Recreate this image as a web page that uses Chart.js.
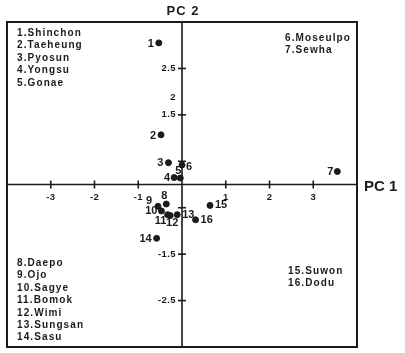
<!DOCTYPE html>
<html>
<head>
<meta charset="utf-8">
<script src="https://cdn.jsdelivr.net/npm/chart.js@4"></script>
<style>
    html, body { margin: 0; padding: 0; background: #fff; }
    #wrap { width: 405px; height: 353px; }
</style>
</head>
<body>
<div id="wrap"><canvas id="pcaChart"></canvas></div>
<script>
    const siteNames = ["Shinchon", "Taeheung", "Pyosun", "Yongsu", "Gonae", "Moseulpo", "Sewha",
        "Daepo", "Ojo", "Sagye", "Bomok", "Wimi", "Sungsan", "Sasu", "Suwon", "Dodu"];
    const pc1 = [-0.53, -0.48, -0.31, -0.18, -0.04, 0.00, 3.55, -0.36, -0.55, -0.47, -0.33, -0.27, -0.11, -0.58, 0.64, 0.31];
    const pc2 = [3.05, 1.07, 0.47, 0.15, 0.14, 0.42, 0.28, -0.42, -0.47, -0.57, -0.65, -0.67, -0.65, -1.16, -0.45, -0.76];

    const xTicks = [-3, -2, -1, 1, 2, 3];
    const yTicks = [2.5, 1.5, 0.5, -0.5, -1.5, -2.5];
    const yTickLabels = ["2.5", "1.5", "", "", "-1.5", "-2.5"];
    // a stray "2" label sits between 2.5 and 1.5 in the original figure
    const yExtraLabel = { value: 1.87, text: "2" };

    // legend blocks: [first index, last index, x, first baseline]
    const legendBlocks = [[0, 4, 17, 36], [5, 6, 285, 41], [7, 13, 17, 266], [14, 15, 288, 273.5]];
    // point label offsets: [dx, dy, align]
    const labelPos = [[-5, 1, "right"], [-5, 1, "right"], [-5, 0, "right"], [-4, 0, "right"],
        [-2, -7, "center"], [4, 2, "left"], [-4, 0, "right"], [-2, -8, "center"],
        [-9, -5, "center"], [-4, 0, "right"], [-7, 6, "center"], [2, 7, "center"],
        [5, 0, "left"], [-5, 1, "right"], [5, 0, "left"], [5, 0, "left"]];

    const FONT = "'Liberation Sans', Arial, sans-serif";
    const INK = "#1b1b1b";

    const points = pc1.map((v, i) => ({ x: v, y: pc2[i] }));

    const pcaDecor = {
        id: "pcaDecor",
        afterDraw(chart) {
            const ctx = chart.ctx;
            const a = chart.chartArea;
            const xs = chart.scales.x, ys = chart.scales.y;
            const x0 = xs.getPixelForValue(0), y0 = ys.getPixelForValue(0);
            ctx.save();
            ctx.strokeStyle = INK;
            ctx.fillStyle = INK;

            // frame
            ctx.lineWidth = 2;
            ctx.strokeRect(a.left, a.top, a.right - a.left, a.bottom - a.top);

            // axes through origin
            ctx.lineWidth = 1.6;
            ctx.beginPath();
            ctx.moveTo(a.left, y0); ctx.lineTo(a.right, y0);
            ctx.moveTo(x0, a.top); ctx.lineTo(x0, a.bottom);
            ctx.stroke();

            // x ticks
            ctx.font = "bold 9.5px " + FONT;
            ctx.letterSpacing = "0.4px";
            ctx.textAlign = "center";
            ctx.textBaseline = "alphabetic";
            xTicks.forEach(v => {
                const px = xs.getPixelForValue(v);
                ctx.beginPath();
                ctx.moveTo(px, y0 - 4); ctx.lineTo(px, y0 + 4);
                ctx.stroke();
                ctx.fillText(String(v), px, y0 + 15);
            });

            // y ticks
            ctx.textAlign = "right";
            ctx.textBaseline = "middle";
            yTicks.forEach((v, i) => {
                const py = ys.getPixelForValue(v);
                ctx.beginPath();
                ctx.moveTo(x0 - 4, py); ctx.lineTo(x0 + 4, py);
                ctx.stroke();
                if (yTickLabels[i]) ctx.fillText(yTickLabels[i], x0 - 6, py);
            });
            ctx.fillText(yExtraLabel.text, x0 - 6, ys.getPixelForValue(yExtraLabel.value));

            // axis titles
            ctx.textBaseline = "alphabetic";
            ctx.textAlign = "center";
            ctx.font = "bold 13px " + FONT;
            ctx.letterSpacing = "1px";
            ctx.fillText("PC 2", x0 + 1, 15);
            ctx.textAlign = "left";
            ctx.font = "bold 15px " + FONT;
            ctx.letterSpacing = "0px";
            ctx.fillText("PC 1", a.right + 7, y0 + 6);

            // point labels
            ctx.font = "bold 11px " + FONT;
            ctx.textBaseline = "middle";
            const meta = chart.getDatasetMeta(0);
            meta.data.forEach((el, i) => {
                const [dx, dy, al] = labelPos[i];
                ctx.textAlign = al;
                ctx.fillText(String(i + 1), el.x + dx, el.y + dy);
            });

            // site name legend
            ctx.font = "bold 10px " + FONT;
            ctx.letterSpacing = "1.1px";
            ctx.textAlign = "left";
            ctx.textBaseline = "alphabetic";
            legendBlocks.forEach(([from, to, lx, ly]) => {
                for (let i = from; i <= to; i++) {
                    ctx.fillText((i + 1) + "." + siteNames[i], lx, ly + (i - from) * 12.4);
                }
            });
            ctx.restore();
        }
    };

    new Chart("pcaChart", {
        type: "scatter",
        data: {
            datasets: [{
                data: points,
                backgroundColor: INK,
                borderColor: INK,
                pointRadius: 3,
                pointHoverRadius: 3
            }]
        },
        options: {
            responsive: true,
            maintainAspectRatio: false,
            animation: false,
            layout: { padding: { left: 7, right: 48, top: 22, bottom: 6 } },
            plugins: { legend: { display: false }, tooltip: { enabled: false } },
            scales: {
                x: { display: false, min: -4, max: 4 },
                y: { display: false, min: -3.5, max: 3.5 }
            }
        },
        plugins: [pcaDecor]
    });
</script>
</body>
</html>
